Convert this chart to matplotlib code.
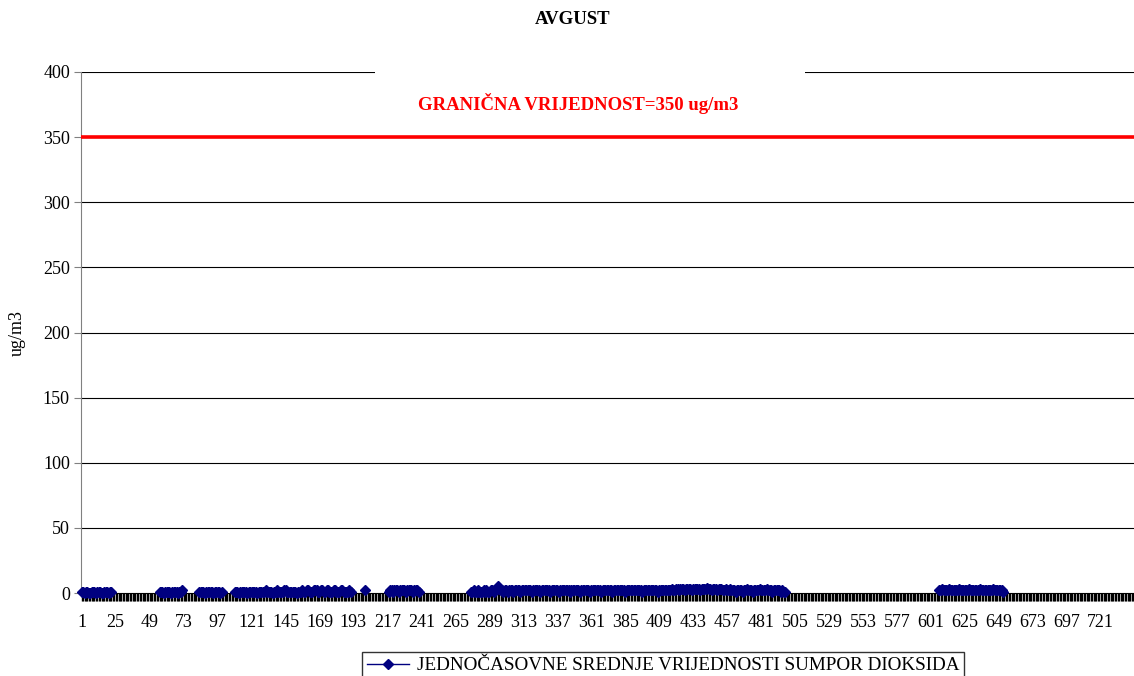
import numpy as np
import matplotlib.pyplot as plt
from matplotlib.patches import Rectangle
from matplotlib.ticker import MultipleLocator, FixedLocator

plt.rcParams["font.family"] = ["Liberation Serif", "DejaVu Serif"]

HOURS = 744  # avgust, 31 * 24
LIMIT = 350

# hourly SO2 means; gaps are missing hours
seg1_start = 1
seg1 = [1, 1, 0, 1, 1, 0, 0, 1, 1, 1, 0, 1, 1, 1, 0, 0, 1, 1, 1, 0, 1, 1]
seg2_start = 56
seg2 = [1, 1, 1, 0, 1, 1, 1, 1, 0, 1, 1, 1, 1, 0, 1, 1, 2]
seg3_start = 84
seg3 = [1, 1, 1, 1, 0, 1, 1, 1, 1, 1, 0, 1, 1, 1, 1, 0, 1]
seg4_start = 109
seg4 = [1, 1, 1, 0, 1, 1, 1, 1, 1, 0, 1, 1, 1, 1, 1, 1, 0, 1, 1, 1,
        1, 1, 2, 1, 1, 1, 1, 0, 1, 1, 2, 1, 1, 1, 1, 2, 2, 1, 1, 1,
        1, 1, 1, 1, 0, 1, 1, 1, 2, 1, 1, 2, 2, 1, 1, 1, 2, 2, 2, 1,
        1, 2, 2, 1, 1, 2, 2, 1, 1, 1, 2, 2, 1, 1, 1, 2, 2, 1, 1, 1,
        1, 2, 1]
seg5_start = 201
seg5 = [2]
seg6_start = 218
seg6 = [1, 2, 2, 1, 2, 2, 2, 1, 2, 2, 2, 2, 1, 2, 2, 2, 2, 1, 2, 2, 2, 1]
seg7_start = 276
seg7 = [1, 1, 2, 1, 1, 2, 1, 1, 1, 2, 1, 2, 1, 1, 2, 2, 1, 2, 3,
        5,
        3, 2, 2, 1, 2, 2, 1, 2, 2, 2, 1, 2, 2, 2, 2, 1, 2, 2, 2, 2,
        2, 2, 2, 1, 2, 2, 2, 2, 2, 1, 2, 2, 2, 2, 2, 2, 1, 2, 2, 2,
        2, 2, 1, 2, 2, 2, 2, 2, 2, 2, 1, 2, 2, 2, 2, 2, 2, 1, 2, 2,
        2, 2, 2, 2, 1, 2, 2, 2, 2, 2, 2, 2, 1, 2, 2, 2, 2, 2, 2, 2,
        1, 2, 2, 2, 2, 2, 2, 2, 2, 1, 2, 2, 2, 2, 2, 2, 2, 2, 2, 2,
        2, 1, 2, 2, 2, 2, 2, 2, 2, 2, 2, 2, 1, 2, 2, 2, 2, 2, 2, 2,
        2, 2, 3, 2, 2, 3, 3, 2, 3, 3, 3, 2, 3, 3, 3, 3, 2, 3, 3, 3,
        3, 3, 2, 3, 3, 3, 3, 4, 3, 3, 2, 3, 3, 3, 2, 3, 3, 3, 2, 2,
        3, 2, 2, 3, 2, 2, 2, 1, 2, 2, 2, 2, 1, 2, 2, 3, 2, 2, 2, 1,
        2, 2, 2, 2, 3, 2, 2, 2, 2, 3, 2, 2, 2, 1, 2, 2, 2, 2, 2, 1,
        2, 1, 1]
seg8_start = 607
seg8 = [2, 2, 3, 2, 2, 2, 2, 3, 2, 2, 2, 2, 2, 2, 3, 2, 2, 2, 2, 2,
        2, 3, 2, 2, 2, 2, 2, 2, 2, 3, 2, 2, 2, 2, 2, 2, 2, 2, 3, 2,
        2, 2, 2, 2, 2, 1]

segments = [(seg1_start, seg1), (seg2_start, seg2), (seg3_start, seg3),
            (seg4_start, seg4), (seg5_start, seg5), (seg6_start, seg6),
            (seg7_start, seg7), (seg8_start, seg8)]

hours = np.arange(1, HOURS + 1)
values = np.full(HOURS, np.nan)
for start, vals in segments:
    values[start - 1:start - 1 + len(vals)] = vals

tick_labels = list(range(1, 722, 24))

fig = plt.figure(figsize=(11.34, 6.76), dpi=100)
ax = fig.add_axes([81 / 1134, 1 - 593 / 676, 1 - 81 / 1134, (593 - 72) / 676])

ax.set_xlim(0.5, HOURS + 0.5)
ax.set_ylim(0, 400)
ax.yaxis.set_major_locator(MultipleLocator(50))
ax.xaxis.set_major_locator(FixedLocator(tick_labels))
ax.xaxis.set_minor_locator(MultipleLocator(1))
ax.set_xticklabels([str(t) for t in tick_labels])

for y in range(50, 401, 50):
    ax.axhline(y, color="black", lw=0.8, zorder=1)

ax.axhline(LIMIT, color="red", lw=2.6, zorder=3)

# white box of the excel label that cuts the 400 gridline
ax.add_patch(Rectangle((0.279, 0.92), 0.409, 0.1, transform=ax.transAxes,
                       facecolor="white", edgecolor="none", zorder=2,
                       clip_on=False))
ax.text(0.472, 376, "GRANIČNA VRIJEDNOST=350 ug/m3", color="red",
        fontsize=13.5, fontweight="bold", ha="center", va="center",
        transform=ax.get_yaxis_transform(), zorder=4)

line, = ax.plot(hours, values, color="#000080", lw=1, marker="D",
                markersize=5, zorder=5, clip_on=False,
                label="JEDNOČASOVNE SREDNJE VRIJEDNOSTI SUMPOR DIOKSIDA")

for side in ("top", "right"):
    ax.spines[side].set_visible(False)
ax.spines["left"].set_color("#808080")
ax.spines["bottom"].set_color("black")

ax.tick_params(axis="y", length=5, color="#808080", labelsize=13, pad=3)
ax.tick_params(axis="x", which="major", length=6, width=1, labelsize=13,
               pad=9)
ax.tick_params(axis="x", which="minor", length=6, width=1)

ax.set_ylabel("ug/m3", fontsize=13, labelpad=12)
fig.text(573 / 1134, 1 - 20 / 676, "AVGUST", fontsize=13.5,
         fontweight="bold", ha="center", va="center")

leg = fig.legend(handles=[line], loc="upper center",
                 bbox_to_anchor=(663 / 1134, 1 - 652 / 676),
                 fontsize=13.8, frameon=True, fancybox=False,
                 edgecolor="black", borderaxespad=0, handlelength=2.2,
                 borderpad=0.25, handletextpad=0.4)
leg.get_frame().set_linewidth(1)

fig.savefig("out.png", dpi=100)
